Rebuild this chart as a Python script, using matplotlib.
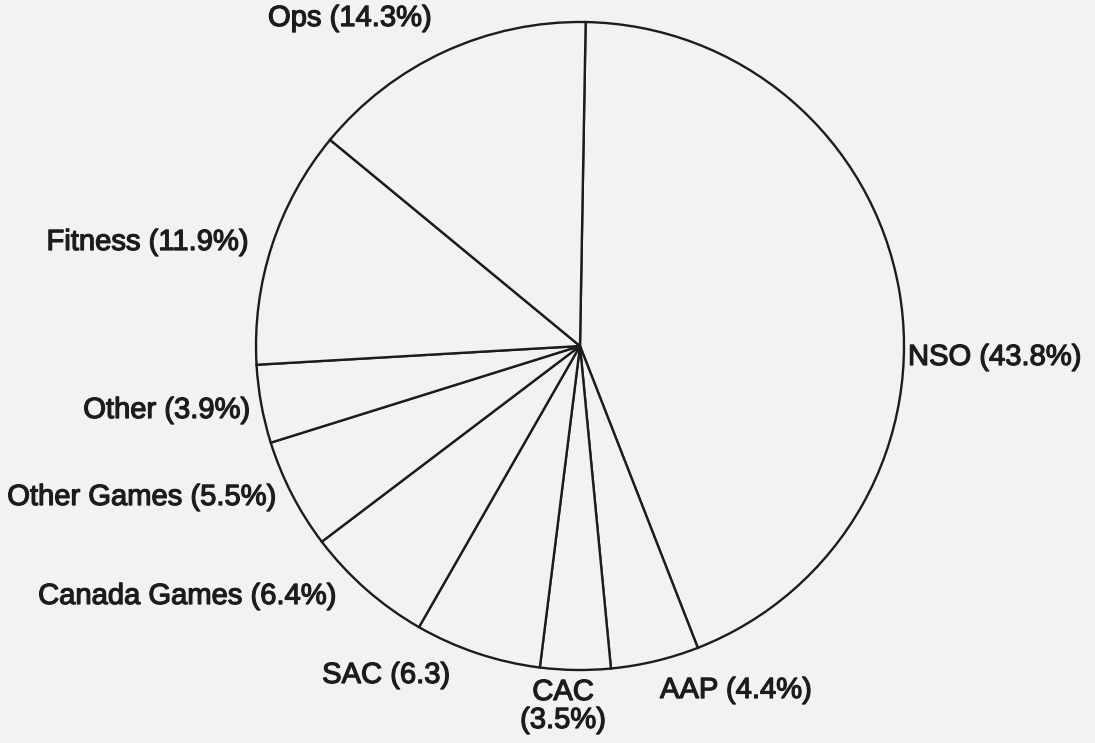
import matplotlib.pyplot as plt
import matplotlib.patheffects as pe

labels = ["NSO (43.8%)", "AAP (4.4%)", "CAC\n(3.5%)", "SAC (6.3)", "Canada Games (6.4%)",
          "Other Games (5.5%)", "Other (3.9%)", "Fitness (11.9%)", "Ops (14.3%)"]
shares = [43.8, 4.4, 3.5, 6.3, 6.4, 5.5, 3.9, 11.9, 14.3]

# where each label sits (pixels, y from the top) and how it is anchored
label_pos = [(908, 357, "left"), (660, 690, "left"), (563, 706, "center"),
             (450, 675, "right"), (336, 596, "right"), (276, 497, "right"),
             (250, 410, "right"), (248, 242, "right"), (268, 18, "left")]

W, H = 1095, 743
bg = "#f2f2f0"
ink = "#1c1c1c"

fig = plt.figure(figsize=(W / 100, H / 100), dpi=100, facecolor=bg)
ax = fig.add_axes([0, 0, 1, 1])
ax.set_facecolor(bg)

ax.pie(shares, center=(580, H - 346), radius=324, startangle=89, counterclock=False,
       colors=[bg] * len(shares),
       wedgeprops=dict(edgecolor=ink, linewidth=1.7))

for text, (x, y, ha) in zip(labels, label_pos):
    ax.text(x, H - y, text, ha=ha, va="center", fontsize=21, color=ink,
            family="Liberation Sans", linespacing=1.0, multialignment="center",
            path_effects=[pe.withStroke(linewidth=0.9, foreground=ink)])

ax.set_xlim(0, W)
ax.set_ylim(0, H)
ax.set_aspect("equal")
ax.axis("off")

fig.savefig("out.png", dpi=100, facecolor=bg)
